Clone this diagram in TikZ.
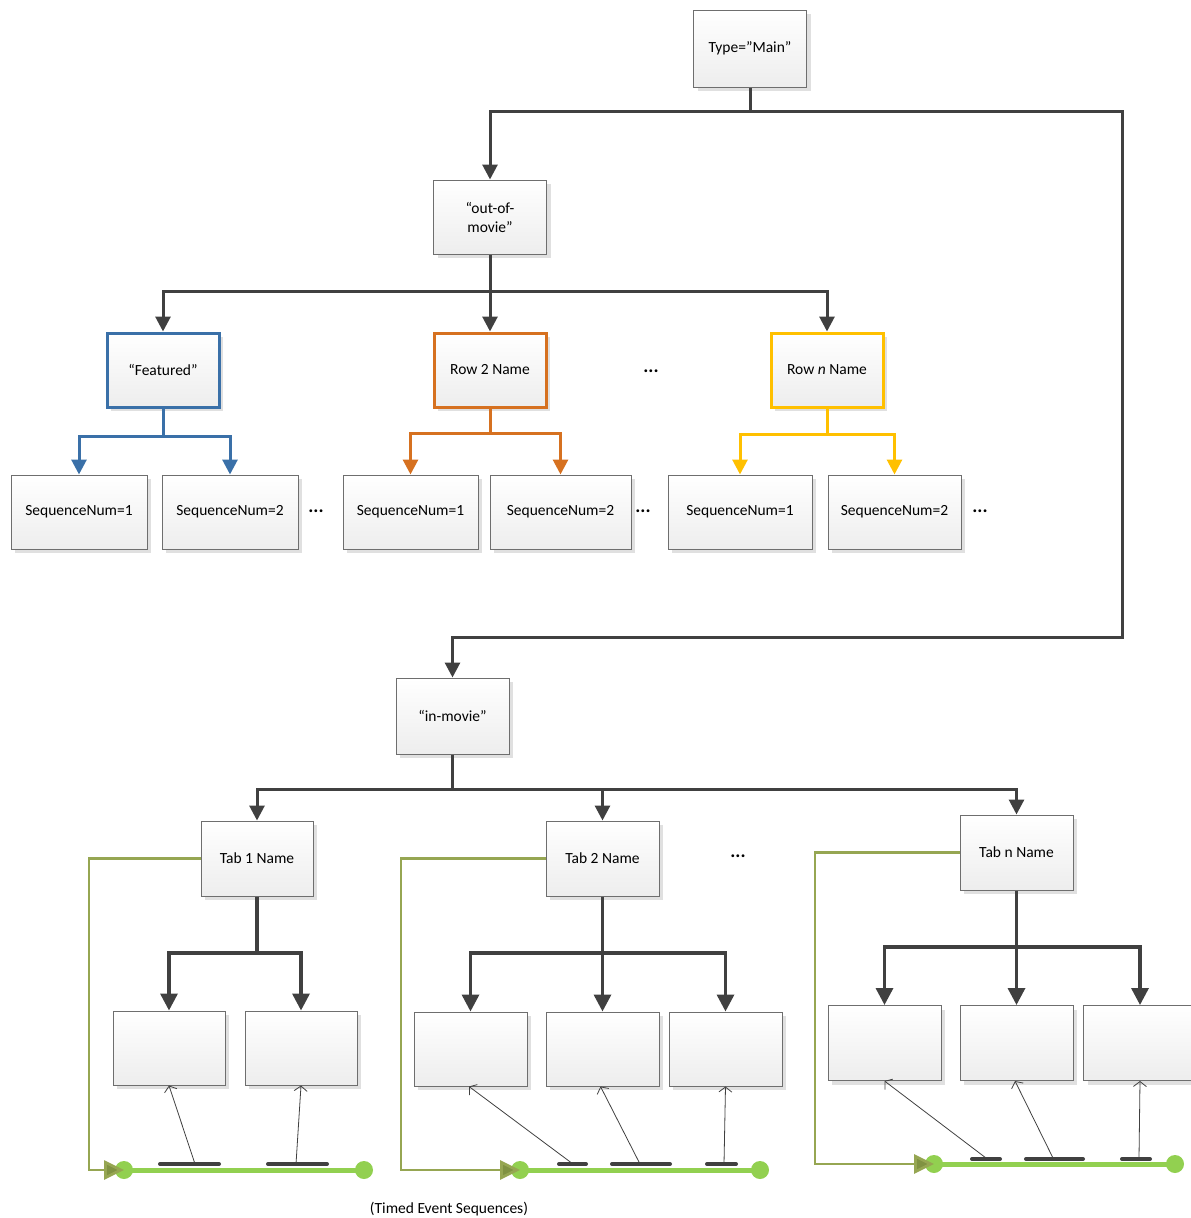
\documentclass[tikz,border=0pt]{standalone}
\usepackage{fontspec}
\setmainfont{Carlito}
\usetikzlibrary{arrows.meta,shadows}
\definecolor{dk}{RGB}{64,64,64}
\definecolor{bdr}{RGB}{110,110,110}
\definecolor{cblue}{RGB}{58,112,168}
\definecolor{corange}{RGB}{214,113,32}
\definecolor{cyellow}{RGB}{255,192,0}
\definecolor{cgreen}{RGB}{146,208,80}
\definecolor{colive}{RGB}{150,166,82}
\definecolor{colivedk}{RGB}{128,146,66}
\tikzset{
  box/.style={draw=bdr, line width=1pt, top color=white, bottom color=black!7,
    drop shadow={shadow xshift=4pt, shadow yshift=-4pt, fill=black!12, opacity=1},
    inner sep=2pt, align=center, font=\fontsize{15.5}{19}\selectfont},
  conn/.style={draw=dk, line width=3pt},
  tip/.style={-{Triangle[length=15pt,width=15pt]}},
  bigtip/.style={-{Triangle[length=17pt,width=17pt]}},
  ptr/.style={draw=dk, line width=0.8pt, -{Straight Barb[length=5pt,width=13pt]}},
  bar/.style={draw=dk, line width=4pt, line cap=round},
  dot/.style={circle, fill=cgreen, minimum size=18pt, inner sep=0pt},
  gline/.style={draw=cgreen, line width=5pt},
  oline/.style={draw=colive, line width=2.8pt, -{Triangle[length=20pt,width=19pt,fill=colivedk]}},
  dots/.style={font=\fontsize{19}{22}\selectfont\bfseries},
}
\begin{document}
\begin{tikzpicture}[x=1pt,y=-1pt]
\useasboundingbox (0,0) rectangle (1191,1218);
\clip (0,0) rectangle (1191,1218);

% ---- top level ----
\node[box, minimum width=113pt, minimum height=77pt] (main) at (750,48.5) {Type=”Main”};
\node[box, minimum width=113pt, minimum height=74pt] (oom) at (490,217) {“out-of-\\movie”};
\node[box, minimum width=113pt, minimum height=76pt] (inm) at (452.5,716) {“in-movie”};

% ---- rows ----
\node[box, draw=cblue, line width=3pt, minimum width=112pt, minimum height=74pt] (feat) at (163,370) {“Featured”};
\node[box, draw=corange, line width=3pt, minimum width=112pt, minimum height=74pt] (row2) at (490,370) {Row 2 Name};
\node[box, draw=cyellow, line width=3pt, minimum width=112pt, minimum height=74pt] (rown) at (827,370) {Row \textit{n} Name};
\node[dots] (e1) at (651,371) {...};

% ---- sequences ----
\node[box, minimum width=136pt, minimum height=74pt] (s11) at (79,512) {SequenceNum=1};
\node[box, minimum width=136pt, minimum height=74pt] (s12) at (230,512) {SequenceNum=2};
\node[dots] (e2) at (316,511) {...};
\node[box, minimum width=135pt, minimum height=74pt] (s21) at (410.5,512) {SequenceNum=1};
\node[box, minimum width=141pt, minimum height=74pt] (s22) at (560.5,512) {SequenceNum=2};
\node[dots] (e3) at (643,511) {...};
\node[box, minimum width=144pt, minimum height=74pt] (s31) at (740,512) {SequenceNum=1};
\node[box, minimum width=133pt, minimum height=74pt] (s32) at (894.5,512) {SequenceNum=2};
\node[dots] (e4) at (980,511) {...};

% ---- tabs ----
\node[box, minimum width=112pt, minimum height=75pt] (t1) at (257,858.5) {Tab 1 Name};
\node[box, minimum width=113pt, minimum height=75pt] (t2) at (602.5,858.5) {Tab 2 Name};
\node[box, minimum width=113pt, minimum height=75pt] (tn) at (1016.5,852.5) {Tab n Name};
\node[dots] (e5) at (738,856) {...};

% ---- tab children ----
\node[box, minimum width=112pt, minimum height=74pt] (c11) at (169,1048) {};
\node[box, minimum width=112pt, minimum height=74pt] (c12) at (301,1048) {};
\node[box, minimum width=113pt, minimum height=74pt] (c21) at (470.5,1049) {};
\node[box, minimum width=113pt, minimum height=74pt] (c22) at (602.5,1049) {};
\node[box, minimum width=113pt, minimum height=74pt] (c23) at (725.5,1049) {};
\node[box, minimum width=113pt, minimum height=75pt] (c31) at (884.5,1043) {};
\node[box, minimum width=113pt, minimum height=75pt] (c32) at (1016.5,1043) {};
\node[box, minimum width=113pt, minimum height=75pt] (c33) at (1140,1043) {};

% ---- main connectors ----
\coordinate (j1) at (750,111);
\coordinate (jr) at (1122,637);
\draw[conn] (main.south) -- (j1);
\draw[conn,tip] (j1) -| (oom.north);
\draw[conn,tip] (j1) -| (jr) -| (inm.north);

\coordinate (j2) at (490,291);
\draw[conn] (oom.south) -- (j2);
\draw[conn,tip] (j2) -| (feat.north);
\draw[conn,tip] (j2) -- (row2.north);
\draw[conn,tip] (j2) -| (rown.north);

\coordinate (jf) at (163,436);
\draw[draw=cblue, line width=3pt] (feat.south) -- (jf);
\draw[draw=cblue, line width=3pt, tip] (jf) -| (s11.north);
\draw[draw=cblue, line width=3pt, tip] (jf) -| (s12.north);
\coordinate (jo) at (490,433);
\draw[draw=corange, line width=3pt] (row2.south) -- (jo);
\draw[draw=corange, line width=3pt, tip] (jo) -| (s21.north);
\draw[draw=corange, line width=3pt, tip] (jo) -| (s22.north);
\coordinate (jy) at (827,434);
\draw[draw=cyellow, line width=3pt] (rown.south) -- (jy);
\draw[draw=cyellow, line width=3pt, tip] (jy) -| (s31.north);
\draw[draw=cyellow, line width=3pt, tip] (jy) -| (s32.north);

\coordinate (j3) at (452.5,789);
\draw[conn] (inm.south) -- (j3);
\draw[conn,tip] (j3) -| (t1.north);
\draw[conn,tip] (j3) -| (t2.north);
\draw[conn,tip] (j3) -| (tn.north);

\coordinate (k1) at (257,953);
\draw[conn, line width=3.4pt] (t1.south) -- (k1);
\draw[conn, line width=3.4pt, bigtip] (k1) -| (c11.north);
\draw[conn, line width=3.4pt, bigtip] (k1) -| (c12.north);
\coordinate (k2) at (602.5,953);
\draw[conn, line width=3.4pt] (t2.south) -- (k2);
\draw[conn, line width=3.4pt, bigtip] (k2) -| (c21.north);
\draw[conn, line width=3.4pt, bigtip] (k2) -- (c22.north);
\draw[conn, line width=3.4pt, bigtip] (k2) -| (c23.north);
\coordinate (k3) at (1016.5,947);
\draw[conn, line width=3.4pt] (tn.south) -- (k3);
\draw[conn, line width=3.4pt, bigtip] (k3) -| (c31.north);
\draw[conn, line width=3.4pt, bigtip] (k3) -- (c32.north);
\draw[conn, line width=3.4pt, bigtip] (k3) -| (c33.north);

% ---- timeline 1 ----
\node[dot] (d1a) at (124,1170) {};
\node[dot] (d1b) at (364,1170) {};
\draw[gline] (d1a.center) -- (d1b.center);
\coordinate (o1) at (89,1170);
\draw[oline] (t1.west) -| (o1) -- (d1a.center);
\draw[bar] (160,1164) -- (219,1164);
\draw[bar] (268,1164) -- (327,1164);
\coordinate (b11) at (195,1164);
\coordinate (b12) at (296,1164);
\draw[ptr] (b11) -- (c11.south);
\draw[ptr] (b12) -- (c12.south);

% ---- timeline 2 ----
\node[dot] (d2a) at (520,1170) {};
\node[dot] (d2b) at (760,1170) {};
\draw[gline] (d2a.center) -- (d2b.center);
\coordinate (o2) at (401,1170);
\draw[oline] (t2.west) -| (o2) -- (d2a.center);
\draw[bar] (559,1164) -- (586,1164);
\draw[bar] (612,1164) -- (670,1164);
\draw[bar] (707,1164) -- (736,1164);
\coordinate (b21) at (573,1164);
\coordinate (b22) at (640,1164);
\coordinate (b23) at (724,1164);
\draw[ptr] (b21) -- ([xshift=-1.5pt]c21.south);
\draw[ptr] (b22) -- ([xshift=-2pt]c22.south);
\draw[ptr] (b23) -- (c23.south);

% ---- timeline n ----
\node[dot] (d3a) at (934,1164) {};
\node[dot] (d3b) at (1175,1164) {};
\draw[gline] (d3a.center) -- (d3b.center);
\coordinate (o3) at (815,1164);
\draw[oline] (tn.west) -| (o3) -- (d3a.center);
\draw[bar] (972,1159) -- (1000,1159);
\draw[bar] (1026,1159) -- (1083,1159);
\draw[bar] (1122,1159) -- (1150,1159);
\coordinate (b31) at (986,1158);
\coordinate (b32) at (1053,1158);
\coordinate (b33) at (1139,1158);
\draw[ptr] (b31) -- (c31.south);
\draw[ptr] (b32) -- ([xshift=-1.5pt]c32.south);
\draw[ptr] (b33) -- (c33.south);

\node[font=\fontsize{15.5}{19}\selectfont] (cap) at (449,1209) {(Timed Event Sequences)};
\end{tikzpicture}
\end{document}
